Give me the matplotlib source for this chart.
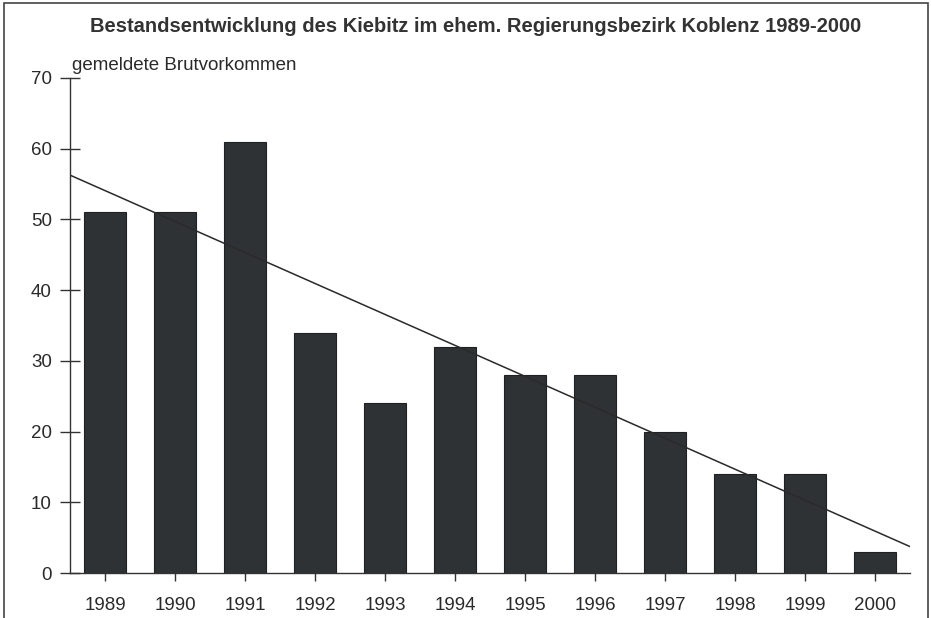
import numpy as np
import matplotlib
matplotlib.use('Agg')
import matplotlib.pyplot as plt
from matplotlib.patches import Rectangle

# Daten
jahre = ['1989', '1990', '1991', '1992', '1993', '1994',
         '1995', '1996', '1997', '1998', '1999', '2000']
brutvorkommen = [51, 51, 61, 34, 24, 32, 28, 28, 20, 14, 14, 3]
y_ticks = [0, 10, 20, 30, 40, 50, 60, 70]

plt.rcParams['font.family'] = ['Liberation Sans', 'DejaVu Sans']

fig = plt.figure(figsize=(9.31, 6.18), dpi=100)
ax = fig.add_axes([70 / 931, 1 - 573 / 618, 840 / 931, 495 / 618])

x = np.arange(len(jahre))
ax.bar(x, brutvorkommen, width=0.61, color='#2f3234', edgecolor='#1e2022', linewidth=0.8, zorder=2)

# lineare Trendlinie
m, b = np.polyfit(x, brutvorkommen, 1)
xt = np.array([-0.5, len(jahre) - 0.5])
ax.plot(xt, m * xt + b, color='#2a2a2a', linewidth=1.1, zorder=3)

ax.set_xlim(-0.5, len(jahre) - 0.5)
ax.set_ylim(0, 70)
ax.set_xticks(x)
ax.set_xticklabels(jahre)
ax.set_yticks(y_ticks)
for s in ['top', 'right']:
    ax.spines[s].set_visible(False)
for s in ['left', 'bottom']:
    ax.spines[s].set_color('#333333')
    ax.spines[s].set_linewidth(1.0)
ax.tick_params(axis='y', direction='inout', length=14, width=1.0, color='#333333',
               labelsize=13.5, pad=6, labelcolor='#2a2a2a')
ax.tick_params(axis='x', direction='out', length=6, width=1.0, color='#333333',
               labelsize=13.5, pad=11, labelcolor='#2a2a2a')

fig.text(72 / 931, 1 - 66 / 618, 'gemeldete Brutvorkommen', fontsize=13.5,
         color='#2a2a2a', ha='left', va='center')
fig.text(476 / 931, 1 - 27 / 618,
         'Bestandsentwicklung des Kiebitz im ehem. Regierungsbezirk Koblenz 1989-2000',
         fontsize=14.5, fontweight='bold', color='#333333', ha='center', va='center')

# Rahmen
fig.patches.append(Rectangle((4 / 931, -0.05), 924 / 931, 1.05 - 3 / 618,
                             transform=fig.transFigure, fill=False,
                             edgecolor='#444444', linewidth=1.2))

fig.savefig('out.png', dpi=100)
